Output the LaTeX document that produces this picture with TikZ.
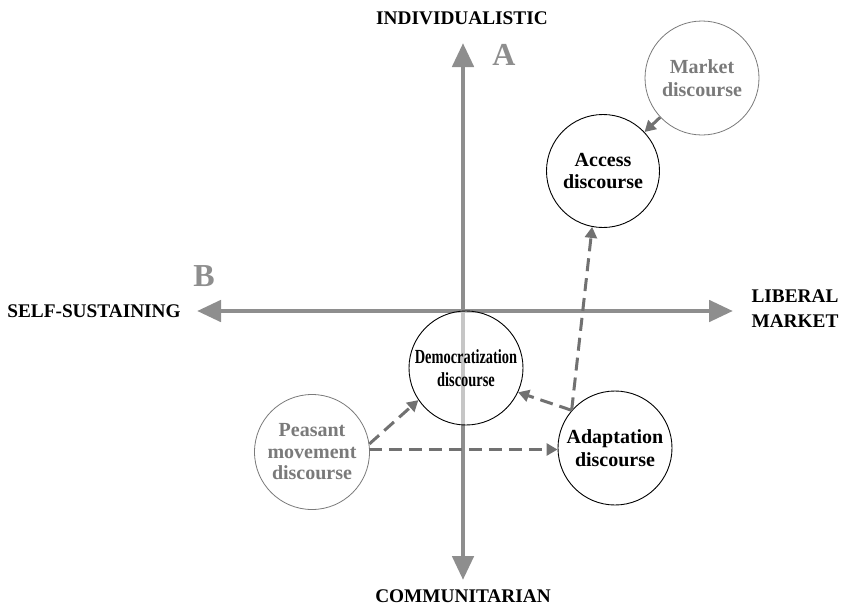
\documentclass[tikz,border=0pt]{standalone}
\usepackage{fontspec}
\setmainfont{Liberation Serif}
\usetikzlibrary{arrows.meta}
\definecolor{axisgray}{HTML}{8E8E8E}
\definecolor{linkgray}{HTML}{717171}
\definecolor{softgray}{HTML}{7A7A7A}
\begin{document}
\begin{tikzpicture}[x=1pt,y=-1pt,
  axis/.style={line width=4.8pt,draw=axisgray,
    -{Triangle[length=24pt,width=21pt]}},
  axislabel/.style={font=\bfseries\fontsize{19.3}{25}\selectfont,text=black,align=center},
  bigletter/.style={font=\bfseries\fontsize{32}{32}\selectfont,text=axisgray},
  disc/.style={circle,draw=black,line width=0.9pt,fill=white,align=center,
    font=\bfseries\fontsize{20}{22.5}\selectfont,inner sep=0pt,minimum size=114pt},
  faintdisc/.style={disc,draw=softgray,line width=0.8pt,text=softgray},
  link/.style={draw=linkgray,line width=3pt,dash pattern=on 13pt off 7pt,
    -{Triangle[length=11pt,width=12pt]}},
  solidlink/.style={draw=linkgray,line width=3pt,-{Triangle[length=11pt,width=12pt]}}]
\useasboundingbox (0,0) rectangle (842,605);

% axes
\coordinate (ctr) at (463,311);
\coordinate (top) at (463,43);
\coordinate (bot) at (463,580);
\coordinate (lft) at (197,311);
\coordinate (rgt) at (733,311);
\draw[axis] (ctr) -- (top);
\draw[axis] (ctr) -- (bot);
\draw[axis] (ctr) -- (lft);
\draw[axis] (ctr) -- (rgt);

% axis labels
\node[axislabel] (ind) at (462,18) {INDIVIDUALISTIC};
\node[axislabel,anchor=base] (com) at (463,602) {COMMUNITARIAN};
\node[axislabel] (self) at (94,311) {SELF-SUSTAINING};
\node[axislabel] (lib) at (795,309) {LIBERAL\\MARKET};
\node[bigletter] (la) at (504,55) {A};
\node[bigletter] (lb) at (204,276) {B};

% discourses
\node[disc,minimum size=113pt] (acc) at (603,171) {Access\\discourse};
\node[faintdisc] (mkt) at (702,78) {Market\\discourse};
\node[disc,fill opacity=0.5,text opacity=1] (dem) at (466,368)
  {\scalebox{0.72}[1]{Democratization}\\\scalebox{0.72}[1]{discourse}};
\node[faintdisc,minimum size=115pt,font=\bfseries\fontsize{20}{21.5}\selectfont]
  (pea) at (312,452) {Peasant\\movement\\discourse};
\node[disc] (ada) at (615,448) {Adaptation\\discourse};

% links between discourses
\coordinate (peamid) at (369,449.5);
\draw[solidlink] (mkt) -- (acc);
\draw[link] (ada.139) -- (acc.259);
\draw[link] (ada.139) -- (dem.-25);
\draw[link] (pea.8) -- (dem.214);
\draw[link] (peamid) -- (ada.west|-peamid);
\end{tikzpicture}
\end{document}
